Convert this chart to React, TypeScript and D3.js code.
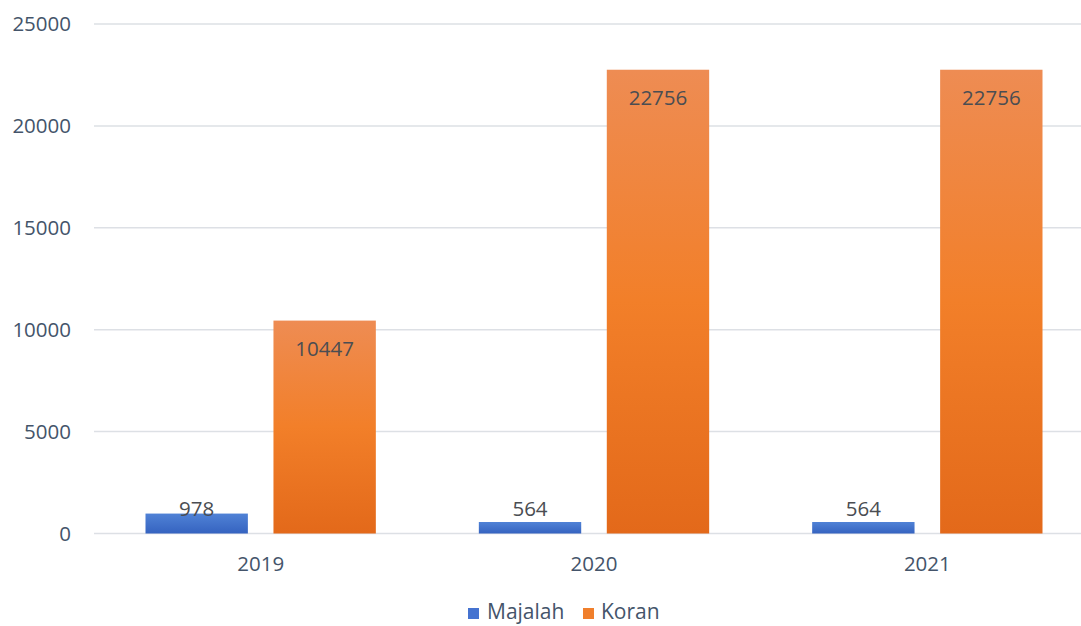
import React from "react";
import * as d3 from "d3";

const years = ["2019", "2020", "2021"];
const majalah = [978, 564, 564];
const koran = [10447, 22756, 22756];
const seriesNames = ["Majalah", "Koran"];
const yTicks = [0, 5000, 10000, 15000, 20000, 25000];

const W = 1081;
const H = 626;
const FONT = "'Open Sans', 'Noto Sans', sans-serif";

export default function App() {
  const x0 = d3.scaleBand<string>().domain(years).range([94, 1094]).paddingInner(0).paddingOuter(0);
  const x1 = d3
    .scaleBand<string>()
    .domain(seriesNames)
    .range([51.5, x0.bandwidth() - 51.5])
    .paddingInner(0.2)
    .paddingOuter(0);
  const y = d3.scaleLinear().domain([0, 25000]).range([533.5, 24]);

  const rows = years.map((yr, i) => ({ yr, values: [majalah[i], koran[i]] }));

  return (
    <svg width={W} height={H} style={{ position: "absolute", left: 0, top: 0, background: "#fff" }}>
      <defs>
        <linearGradient id="gBlue" x1="0" y1="0" x2="0" y2="1">
          <stop offset="0" stopColor="#5082d6" />
          <stop offset="1" stopColor="#3563c0" />
        </linearGradient>
        <linearGradient id="gOrange" x1="0" y1="0" x2="0" y2="1">
          <stop offset="0" stopColor="#ee8c53" />
          <stop offset="0.5" stopColor="#f27f29" />
          <stop offset="1" stopColor="#e3691a" />
        </linearGradient>
      </defs>
      <rect width={W} height={H} fill="#fff" />

      {/* horizontal gridlines */}
      {yTicks.map((t) => (
        <line key={t} x1={94} x2={W} y1={y(t)} y2={y(t)} stroke="#dde0e5" strokeWidth={1.5} />
      ))}

      {/* y tick labels */}
      {yTicks.map((t) => (
        <text
          key={t}
          x={71}
          y={y(t)}
          dy="0.35em"
          textAnchor="end"
          fontFamily={FONT}
          fontSize={20.5}
          fill="#44546a"
        >
          {t}
        </text>
      ))}

      {/* bars and value labels */}
      {rows.map((r) => (
        <g key={r.yr} transform={`translate(${x0(r.yr)},0)`}>
          {r.values.map((v, j) => {
            const bx = x1(seriesNames[j])!;
            const bw = x1.bandwidth();
            const top = y(v);
            const labelY = Math.min(top + 28, y(0) - 25);
            return (
              <g key={j}>
                <rect
                  x={bx}
                  y={top}
                  width={bw}
                  height={y(0) - top}
                  fill={j === 0 ? "url(#gBlue)" : "url(#gOrange)"}
                />
                <text
                  x={bx + bw / 2}
                  y={labelY}
                  dy="0.35em"
                  textAnchor="middle"
                  fontFamily={FONT}
                  fontSize={20.5}
                  fill="#4a4d52"
                >
                  {v}
                </text>
              </g>
            );
          })}
          <text
            x={x0.bandwidth() / 2}
            y={564}
            dy="0.35em"
            textAnchor="middle"
            fontFamily={FONT}
            fontSize={20.5}
            fill="#44546a"
          >
            {r.yr}
          </text>
        </g>
      ))}

      {/* legend */}
      <g>
        <rect x={468} y={608} width={11} height={11} fill="#4573d0" />
        <text x={487} y={612} dy="0.35em" fontFamily={FONT} fontSize={21} fill="#44546a">
          {seriesNames[0]}
        </text>
        <rect x={583} y={608} width={11} height={11} fill="#f07f2c" />
        <text x={601} y={612} dy="0.35em" fontFamily={FONT} fontSize={21} fill="#44546a">
          {seriesNames[1]}
        </text>
      </g>
    </svg>
  );
}
